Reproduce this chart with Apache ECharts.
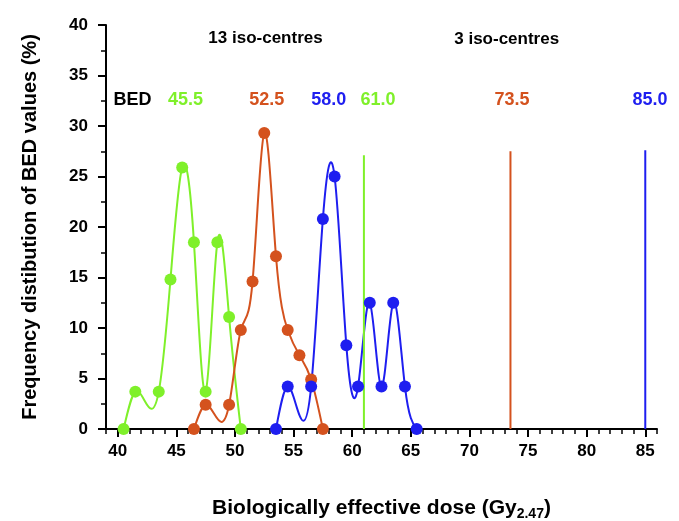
<!DOCTYPE html>
<html>
<head>
<meta charset="utf-8">
<script src="https://cdn.jsdelivr.net/npm/echarts@6/dist/echarts.min.js"></script>
<style>html,body{margin:0;padding:0;background:#fff;}#c{width:679px;height:521px;}</style>
</head>
<body>
<div id="c"></div>
<script>
// ---- data ----
const greenX = [40.5, 41.5, 43.5, 44.5, 45.5, 46.5, 47.5, 48.5, 49.5, 50.5];
const greenY = [0, 3.7, 3.7, 14.8, 25.9, 18.5, 3.7, 18.5, 11.1, 0];
const orangeX = [46.5, 47.5, 49.5, 50.5, 51.5, 52.5, 53.5, 54.5, 55.5, 56.5, 57.5];
const orangeY = [0, 2.4, 2.4, 9.8, 14.6, 29.3, 17.1, 9.8, 7.3, 4.9, 0];
const blueX = [53.5, 54.5, 56.5, 57.5, 58.5, 59.5, 60.5, 61.5, 62.5, 63.5, 64.5, 65.5];
const blueY = [0, 4.2, 4.2, 20.8, 25.0, 8.3, 4.2, 12.5, 4.2, 12.5, 4.2, 0];
const lineX = [61.0, 73.5, 85.0];
const lineTop = [27.1, 27.5, 27.6];
const bedLabels = ['45.5', '52.5', '58.0', '61.0', '73.5', '85.0'];
const groupLabels = ['13 iso-centres', '3 iso-centres'];
const xMajorTicks = [40, 45, 50, 55, 60, 65, 70, 75, 80, 85];
const xMinorTicks = [];
for (let v = 39; v <= 86; v++) xMinorTicks.push(v);

const GREEN = '#7ff02a', ORANGE = '#d4521e', BLUE = '#1e1ef0';
const colors = [GREEN, ORANGE, BLUE, GREEN, ORANGE, BLUE];
const FONT = 'Liberation Sans, Arial, sans-serif';

const zip = (xs, ys) => xs.map((x, i) => [x, ys[i]]);

// natural cubic spline through pixel points, returned as SVG path (exact Bezier form)
function splinePath(pts) {
  const n = pts.length;
  const x = pts.map(p => p[0]), y = pts.map(p => p[1]);
  const h = [];
  for (let i = 0; i < n - 1; i++) h.push(x[i + 1] - x[i]);
  const M = new Array(n).fill(0);
  if (n > 2) {
    const a = [], b = [], c = [], d = [];
    for (let i = 1; i < n - 1; i++) {
      a.push(h[i - 1]);
      b.push(2 * (h[i - 1] + h[i]));
      c.push(h[i]);
      d.push(6 * ((y[i + 1] - y[i]) / h[i] - (y[i] - y[i - 1]) / h[i - 1]));
    }
    const m = b.length;
    for (let i = 1; i < m; i++) {
      const w = a[i] / b[i - 1];
      b[i] -= w * c[i - 1];
      d[i] -= w * d[i - 1];
    }
    const sol = new Array(m);
    sol[m - 1] = d[m - 1] / b[m - 1];
    for (let i = m - 2; i >= 0; i--) sol[i] = (d[i] - c[i] * sol[i + 1]) / b[i];
    for (let i = 0; i < m; i++) M[i + 1] = sol[i];
  }
  let path = 'M' + x[0] + ' ' + y[0];
  for (let i = 0; i < n - 1; i++) {
    const hi = h[i];
    const s = (y[i + 1] - y[i]) / hi;
    const m0 = s - hi * (2 * M[i] + M[i + 1]) / 6;
    const m1 = s + hi * (M[i] + 2 * M[i + 1]) / 6;
    path += ' C' + (x[i] + hi / 3) + ' ' + (y[i] + m0 * hi / 3) + ' ' +
      (x[i + 1] - hi / 3) + ' ' + (y[i + 1] - m1 * hi / 3) + ' ' +
      x[i + 1] + ' ' + y[i + 1];
  }
  return path;
}

function curve(xs, ys, color) {
  return {
    type: 'custom', data: zip(xs, ys), clip: false, z: 2,
    encode: { x: 0, y: 1 },
    renderItem: function (params, api) {
      if (params.dataIndex !== 0) return null;
      const pts = xs.map((x, i) => api.coord([x, ys[i]]));
      return {
        type: 'path',
        shape: { pathData: splinePath(pts) },
        style: { fill: 'none', stroke: color, lineWidth: 2 }
      };
    }
  };
}
function markers(xs, ys, color) {
  return {
    type: 'scatter', data: zip(xs, ys), symbol: 'circle', symbolSize: 12,
    itemStyle: { color: color, opacity: 1 }, z: 4
  };
}
function vline(i) {
  return {
    type: 'line', data: [[lineX[i], 0], [lineX[i], lineTop[i]]],
    symbol: 'none', lineStyle: { color: colors[i + 3], width: 2 }, z: 2
  };
}

const chart = echarts.init(document.getElementById('c'));

const labelPos = [185.5, 266.8, 328.8, 378, 512, 650];
const graphics = [];
graphics.push({ type: 'text', x: 132.5, y: 100, style: { text: 'BED', fill: '#000', font: 'bold 18px ' + FONT, align: 'center', verticalAlign: 'middle' } });
bedLabels.forEach((t, i) => {
  graphics.push({ type: 'text', x: labelPos[i], y: 100, style: { text: t, fill: colors[i], font: 'bold 18px ' + FONT, align: 'center', verticalAlign: 'middle' } });
});
graphics.push({ type: 'text', x: 265.5, y: 38, style: { text: groupLabels[0], fill: '#000', font: 'bold 17px ' + FONT, align: 'center', verticalAlign: 'middle' } });
graphics.push({ type: 'text', x: 506.7, y: 39, style: { text: groupLabels[1], fill: '#000', font: 'bold 17px ' + FONT, align: 'center', verticalAlign: 'middle' } });

chart.setOption({
  animation: false,
  backgroundColor: '#fff',
  grid: { left: 106, right: 22, top: 25, bottom: 92, containLabel: false, outerBoundsMode: 'none' },
  xAxis: [
    {
      type: 'value', min: 39, max: 86, position: 'bottom',
      axisLine: { show: true, onZero: false, lineStyle: { color: '#000', width: 2 } },
      axisTick: { show: true, customValues: xMajorTicks, length: 8, lineStyle: { color: '#000', width: 2 } },
      axisLabel: { show: true, customValues: xMajorTicks, color: '#000', fontWeight: 'bold', fontSize: 17, fontFamily: FONT, margin: 14 },
      splitLine: { show: false },
      name: '{a|Biologically effective dose (Gy}{s|2.47}{a|)}',
      nameLocation: 'middle', nameGap: 66,
      nameTextStyle: {
        rich: {
          a: { fontSize: 21, fontWeight: 'bold', color: '#000', fontFamily: FONT },
          s: { fontSize: 14, fontWeight: 'bold', color: '#000', fontFamily: FONT, verticalAlign: 'bottom', padding: [12, 0, 0, 0] }
        }
      }
    },
    {
      type: 'value', min: 39, max: 86, position: 'bottom', offset: 0,
      axisLine: { show: false },
      axisTick: { show: true, customValues: xMinorTicks, length: 5, lineStyle: { color: '#000', width: 1.5 } },
      axisLabel: { show: false },
      splitLine: { show: false }
    }
  ],
  yAxis: {
    type: 'value', min: 0, max: 40, interval: 5,
    axisLine: { show: true, lineStyle: { color: '#000', width: 2 } },
    axisTick: { show: true, length: 8, lineStyle: { color: '#000', width: 2 } },
    minorTick: { show: true, splitNumber: 2, length: 5, lineStyle: { color: '#000', width: 1.5 } },
    axisLabel: { color: '#000', fontWeight: 'bold', fontSize: 17, fontFamily: FONT, margin: 18 },
    splitLine: { show: false },
    name: 'Frequency distibution of BED values (%)',
    nameLocation: 'middle', nameGap: 66, nameRotate: 90,
    nameTextStyle: { fontSize: 20, fontWeight: 'bold', color: '#000', fontFamily: FONT }
  },
  graphic: graphics,
  series: [
    curve(greenX, greenY, GREEN),
    curve(orangeX, orangeY, ORANGE),
    curve(blueX, blueY, BLUE),
    markers(greenX, greenY, GREEN),
    markers(orangeX, orangeY, ORANGE),
    markers(blueX, blueY, BLUE),
    vline(0), vline(1), vline(2)
  ]
});
</script>
</body>
</html>
